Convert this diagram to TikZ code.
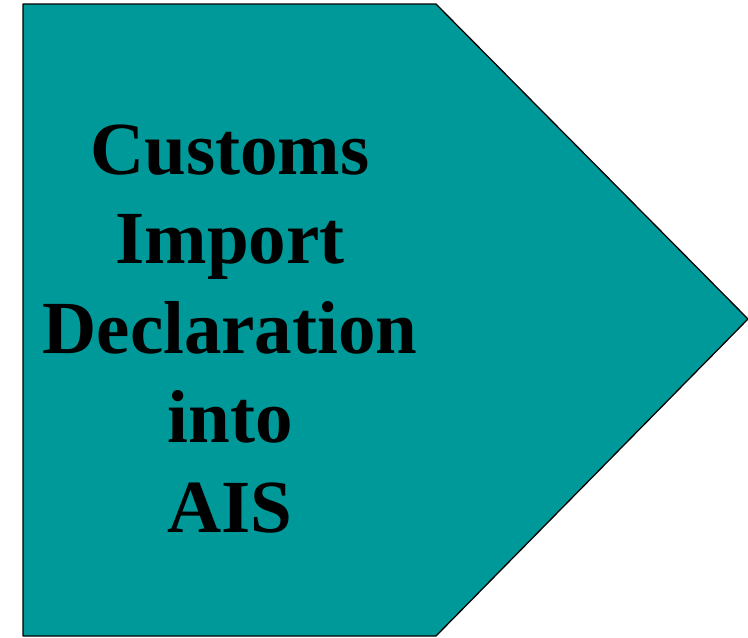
\documentclass[tikz,border=0pt]{standalone}
\usepackage{fontspec}
\setmainfont{Liberation Serif}
\definecolor{tealfill}{RGB}{0,153,153}

\begin{document}
\begin{tikzpicture}[line cap=round,line join=round,x=1pt,y=-1pt,
  arrowbox/.style={fill=tealfill,draw=black,line width=1.3pt},
  boxtext/.style={align=center,font=\fontsize{75}{89.5}\selectfont\bfseries}]
\useasboundingbox (0,0) rectangle (748,638);
\draw[arrowbox] (23,4) -- (436,4) -- (748,319) -- (436,636) -- (23,636) -- cycle;
\node[boxtext] (label) at (230,329) {Customs\\Import\\Declaration\\into\\AIS};
\end{tikzpicture}
\end{document}
